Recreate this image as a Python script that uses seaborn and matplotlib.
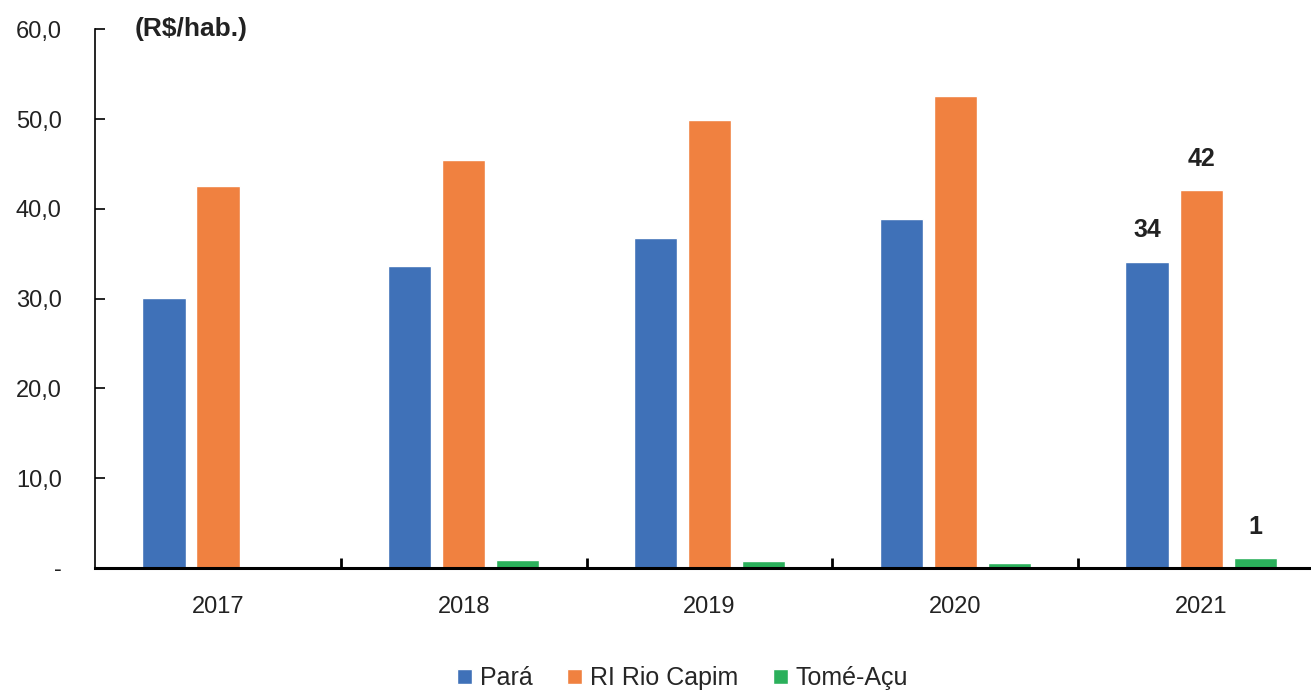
import matplotlib
matplotlib.use("Agg")
import matplotlib.pyplot as plt
import numpy as np
import pandas as pd
import seaborn as sns

years = ["2017", "2018", "2019", "2020", "2021"]
series = ["Pará", "RI Rio Capim", "Tomé-Açu"]
para = [30.1, 33.6, 36.8, 38.9, 34.1]
rio_capim = [42.6, 45.5, 49.9, 52.6, 42.1]
tome_acu = [0.0, 0.9, 0.8, 0.6, 1.1]
colors = ["#3F71B8", "#F08140", "#2BB05B"]
yticks = [0, 10, 20, 30, 40, 50, 60]
ytick_labels = ["-", "10,0", "20,0", "30,0", "40,0", "50,0", "60,0"]

df = pd.DataFrame({
    "Ano": years * 3,
    "Série": [s for s in series for _ in years],
    "Valor": para + rio_capim + tome_acu,
})

sns.set_theme(style="white")
plt.rcParams["font.family"] = ["Liberation Sans", "DejaVu Sans"]

fig = plt.figure(figsize=(13.11, 6.96), dpi=100)
ax = fig.add_axes([0.0725, 0.184, 0.9375, 0.7737])

sns.barplot(data=df, x="Ano", y="Valor", hue="Série", order=years, hue_order=series,
            palette=colors, width=0.66, gap=0.2, saturation=1, ax=ax, legend=True)

ax.set_xlim(-0.5, 4.5)
ax.set_ylim(0, 60)
ax.set_yticks(yticks)
ax.set_yticklabels(ytick_labels, fontsize=17, color="#222222")
ax.tick_params(axis="y", left=True, direction="in", length=7, width=1.2, color="black", pad=24)
ax.set_xticks(range(len(years)))
ax.set_xticklabels(years, fontsize=17, color="#222222")
ax.tick_params(axis="x", which="major", bottom=True, length=0, pad=20)
ax.set_xticks(np.arange(0.5, len(years) - 0.5, 1), minor=True)
ax.tick_params(axis="x", which="minor", bottom=True, direction="in", length=7, width=2, color="black")
ax.set_xlabel("")
ax.set_ylabel("")

for side in ["top", "right"]:
    ax.spines[side].set_visible(False)
ax.spines["left"].set_color("black")
ax.spines["left"].set_linewidth(1.2)
ax.spines["bottom"].set_color("black")
ax.spines["bottom"].set_linewidth(2.2)

ax.text(0.032, 1.0, "(R$/hab.)", transform=ax.transAxes, fontsize=19, fontweight="bold",
        ha="left", va="center", color="#222222")

# data labels only on the last year
for container in ax.containers:
    labels = [""] * (len(years) - 1) + [f"{container.datavalues[-1]:.0f}"]
    ax.bar_label(container, labels=labels, padding=14, fontsize=18, fontweight="bold", color="#222222")

handles, lbls = ax.get_legend_handles_labels()
ax.legend(handles, lbls, loc="center", bbox_to_anchor=(0.478, -0.205),
          ncol=3, frameon=False, fontsize=18, handlelength=0.6, handleheight=0.6,
          handletextpad=0.3, columnspacing=1.4, borderpad=0.1)

fig.savefig("out.png", dpi=100)
